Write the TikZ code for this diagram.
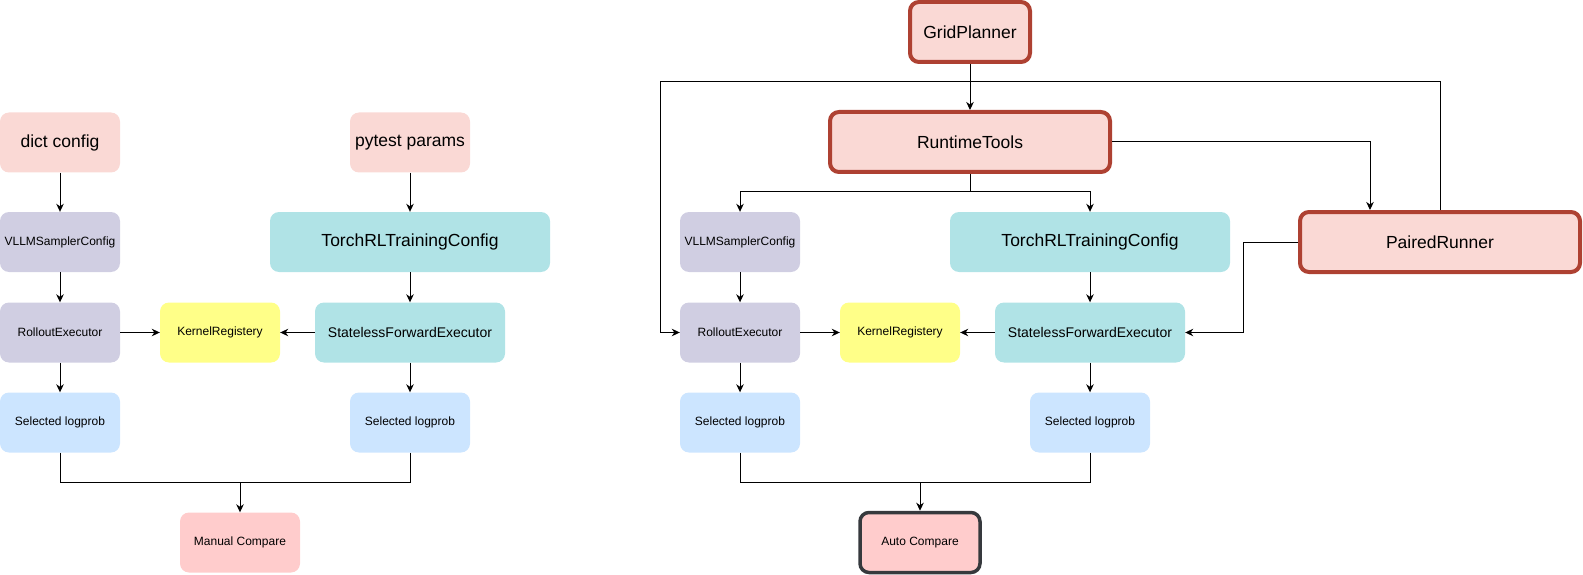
\documentclass[tikz,border=0pt]{standalone}
\usepackage{fontspec}
\setmainfont{Liberation Sans}
\usetikzlibrary{arrows.meta}
\definecolor{pinkF}{HTML}{FAD9D5}
\definecolor{redB}{HTML}{AE4132}
\definecolor{cmpF}{HTML}{FFCCCC}
\definecolor{cmpB}{HTML}{36393D}
\definecolor{lavF}{HTML}{D0CEE2}
\definecolor{tealF}{HTML}{B0E3E6}
\definecolor{yelF}{HTML}{FFFF88}
\definecolor{bluF}{HTML}{CCE5FF}
\begin{document}
\begin{tikzpicture}[x=1pt,y=-1pt,
  box/.style={rectangle, rounded corners=9pt, minimum height=60pt, inner sep=0pt, align=center, text=black},
  big/.style={font=\fontsize{17.5}{21}\selectfont},
  mid/.style={font=\fontsize{14}{17}\selectfont},
  sml/.style={font=\fontsize{12}{14}\selectfont},
  pinkbox/.style={box, fill=pinkF, minimum width=120pt, big},
  redbox/.style={box, fill=pinkF, draw=redB, line width=4pt, big},
  lavbox/.style={box, fill=lavF, minimum width=120pt, sml},
  tealbox/.style={box, fill=tealF},
  yelbox/.style={box, fill=yelF, minimum width=120pt, sml},
  blubox/.style={box, fill=bluF, minimum width=120pt, sml},
  cmpbox/.style={box, fill=cmpF, minimum width=120pt, sml},
  arr/.style={draw=black, line width=1pt, -{Stealth[length=8pt,width=7.5pt,inset=2.5pt]}},
  ln/.style={draw=black, line width=1pt}
]
\useasboundingbox (0,0) rectangle (1583,575);

% ---------- left diagram ----------
\node[pinkbox] (dc) at (60,142.5) {dict config};
\node[pinkbox] (pp) at (410,142.5) {pytest params};
\node[lavbox] (vl1) at (60,242) {VLLMSamplerConfig};
\node[tealbox, minimum width=280pt, big] (tc1) at (410,242) {TorchRLTrainingConfig};
\node[lavbox] (ro1) at (60,332.5) {RolloutExecutor};
\node[yelbox] (kr1) at (220,332.5) {KernelRegistery};
\node[tealbox, minimum width=190pt, mid] (sf1) at (410,332.5) {StatelessForwardExecutor};
\node[blubox] (sl1) at (60,422.5) {Selected logprob};
\node[blubox] (sr1) at (410,422.5) {Selected logprob};
\node[cmpbox] (mc) at (240,542.5) {Manual Compare};
\coordinate (m1) at (240,482);

\draw[arr] (dc) -- (vl1);
\draw[arr] (pp) -- (tc1);
\draw[arr] (vl1) -- (ro1);
\draw[arr] (tc1) -- (sf1);
\draw[arr] (ro1) -- (kr1);
\draw[arr] (sf1) -- (kr1);
\draw[arr] (ro1) -- (sl1);
\draw[arr] (sf1) -- (sr1);
\draw[ln] (sl1.south) |- (m1);
\draw[ln] (sr1.south) |- (m1);
\draw[arr] (m1) -- (mc.north);

% ---------- right diagram ----------
\node[redbox, minimum width=120pt] (gp) at (970,32) {GridPlanner};
\node[redbox, minimum width=280pt] (rt) at (970,142) {RuntimeTools};
\node[redbox, minimum width=280pt] (pr) at (1440,242) {PairedRunner};
\node[lavbox] (vl2) at (740,242) {VLLMSamplerConfig};
\node[tealbox, minimum width=280pt, big] (tc2) at (1090,242) {TorchRLTrainingConfig};
\node[lavbox] (ro2) at (740,332.5) {RolloutExecutor};
\node[yelbox] (kr2) at (900,332.5) {KernelRegistery};
\node[tealbox, minimum width=190pt, mid] (sf2) at (1090,332.5) {StatelessForwardExecutor};
\node[blubox] (sl2) at (740,422.5) {Selected logprob};
\node[blubox] (sr2) at (1090,422.5) {Selected logprob};
\node[cmpbox, draw=cmpB, line width=3.5pt] (ac) at (920,542.5) {Auto Compare};
\coordinate (m2) at (920,482);
\coordinate (tl) at (660.5,82);
\coordinate (tr) at (1440,82);
\coordinate (br) at (970,192);

\draw[arr] (gp) -- (rt);
\draw[arr] (pr.north) -- (tr) -- (tl) |- (ro2.west);
\draw[arr] (rt.east) -| ([xshift=-70pt]pr.north);
\draw[ln] (rt.south) -- (br);
\draw[arr] (br) -| (vl2.north);
\draw[arr] (br) -| (tc2.north);
\draw[arr] (pr.west) -- ++(-55,0) |- (sf2.east);
\draw[arr] (vl2) -- (ro2);
\draw[arr] (tc2) -- (sf2);
\draw[arr] (ro2) -- (kr2);
\draw[arr] (sf2) -- (kr2);
\draw[arr] (ro2) -- (sl2);
\draw[arr] (sf2) -- (sr2);
\draw[ln] (sl2.south) |- (m2);
\draw[ln] (sr2.south) |- (m2);
\draw[arr] (m2) -- (ac.north);
\end{tikzpicture}
\end{document}
